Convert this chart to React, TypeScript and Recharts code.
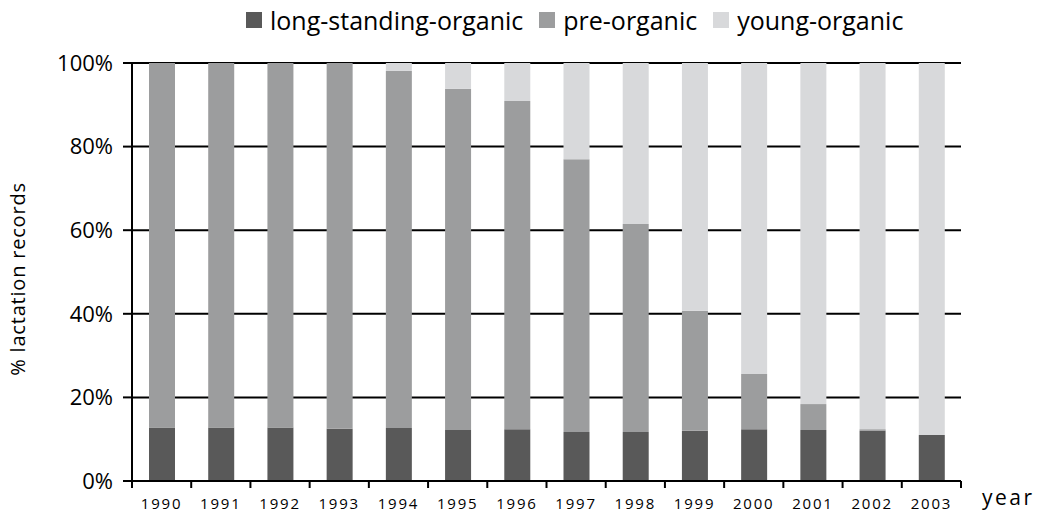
import React from 'react';
import { BarChart, Bar, XAxis, YAxis, CartesianGrid, Legend } from 'recharts';

const years = ['1990','1991','1992','1993','1994','1995','1996','1997','1998','1999','2000','2001','2002','2003'];
const longStanding = [12.8, 12.8, 12.8, 12.5, 12.7, 12.2, 12.4, 11.7, 11.7, 12.0, 12.4, 12.2, 12.0, 11.0];
const preOrganicTop = [100, 100, 100, 100, 98.1, 93.8, 90.9, 77.0, 61.5, 40.7, 25.6, 18.4, 12.4, 11.0];
const yTicks = [0, 20, 40, 60, 80, 100];

const seriesNames = ['long-standing-organic', 'pre-organic', 'young-organic'];
const colors = ['#595959', '#9c9d9e', '#d8d9db'];

const data = years.map((y, i) => ({
  year: y,
  long: longStanding[i],
  pre: +(preOrganicTop[i] - longStanding[i]).toFixed(2),
  young: +(100 - preOrganicTop[i]).toFixed(2),
}));

const FONT = '"Open Sans", "Noto Sans", sans-serif';

const XTick = (props: any) => {
  const { x, y, payload, index } = props;
  const off = payload.offset || 0;
  const last = index === years.length - 1;
  return (
    <g>
      <line x1={x - off} x2={x - off} y1={y} y2={y + 7} stroke="#000" strokeWidth={2} />
      {last && <line x1={x + off} x2={x + off} y1={y} y2={y + 7} stroke="#000" strokeWidth={2} />}
      <text x={x} y={y + 28} textAnchor="middle" fontSize={15} letterSpacing={1.8} fill="#000" fontFamily={FONT}>
        {payload.value}
      </text>
    </g>
  );
};

const LegendContent = () => (
  <div style={{ display: 'flex', alignItems: 'center', fontFamily: FONT, fontSize: 25, color: '#000', lineHeight: '30px' }}>
    {seriesNames.map((n, i) => (
      <div key={n} style={{ display: 'flex', alignItems: 'center', marginRight: 16 }}>
        <div style={{ width: 16, height: 16, background: colors[i], marginRight: 8 }} />
        <span>{n}</span>
      </div>
    ))}
  </div>
);

export default function App() {
  return (
    <div style={{ position: 'fixed', left: 0, top: 0, width: 1052, height: 513, background: '#fff' }}>
      <BarChart
        width={1052}
        height={513}
        data={data}
        margin={{ top: 63, right: 91, bottom: 0, left: 0 }}
        barSize={26}
      >
        <CartesianGrid vertical={false} stroke="#000" strokeWidth={2} />
        <XAxis
          dataKey="year"
          height={32}
          tickLine={false}
          tickSize={0}
          tickMargin={0}
          axisLine={{ stroke: '#000', strokeWidth: 2 }}
          tick={<XTick />}
          interval={0}
          label={{ value: 'year', position: 'right', offset: 21, dy: 1, fontSize: 21, letterSpacing: 2.5, fill: '#000', fontFamily: FONT }}
        />
        <YAxis
          width={132}
          domain={[0, 100]}
          ticks={yTicks}
          tickFormatter={(v: number) => `${v}%`}
          tickSize={9}
          tickMargin={10}
          tickLine={{ stroke: '#000', strokeWidth: 2 }}
          axisLine={{ stroke: '#000', strokeWidth: 2 }}
          tick={{ fill: '#000', fontSize: 22, fontFamily: FONT }}
          label={{
            content: (p: any) => {
              const vb = p.viewBox;
              return (
                <text
                  transform={`translate(${vb.x + 25}, ${vb.y + vb.height / 2 + 7}) rotate(-90)`}
                  textAnchor="middle"
                  fontSize={20}
                  letterSpacing={0.8}
                  fontFamily={FONT}
                  fill="#000"
                >
                  % lactation records
                </text>
              );
            },
          }}
        />
        <YAxis
          yAxisId="r"
          orientation="right"
          width={0}
          domain={[0, 100]}
          tick={false}
          tickLine={false}
          axisLine={{ stroke: '#000', strokeWidth: 2 }}
        />
        <Legend
          verticalAlign="middle"
          align="center"
          content={<LegendContent />}
          wrapperStyle={{ position: 'absolute', top: 5, left: 246, width: 800 }}
        />
        <Bar dataKey="long" name={seriesNames[0]} stackId="a" fill={colors[0]} isAnimationActive={false} />
        <Bar dataKey="pre" name={seriesNames[1]} stackId="a" fill={colors[1]} isAnimationActive={false} />
        <Bar dataKey="young" name={seriesNames[2]} stackId="a" fill={colors[2]} isAnimationActive={false} />
      </BarChart>
    </div>
  );
}
